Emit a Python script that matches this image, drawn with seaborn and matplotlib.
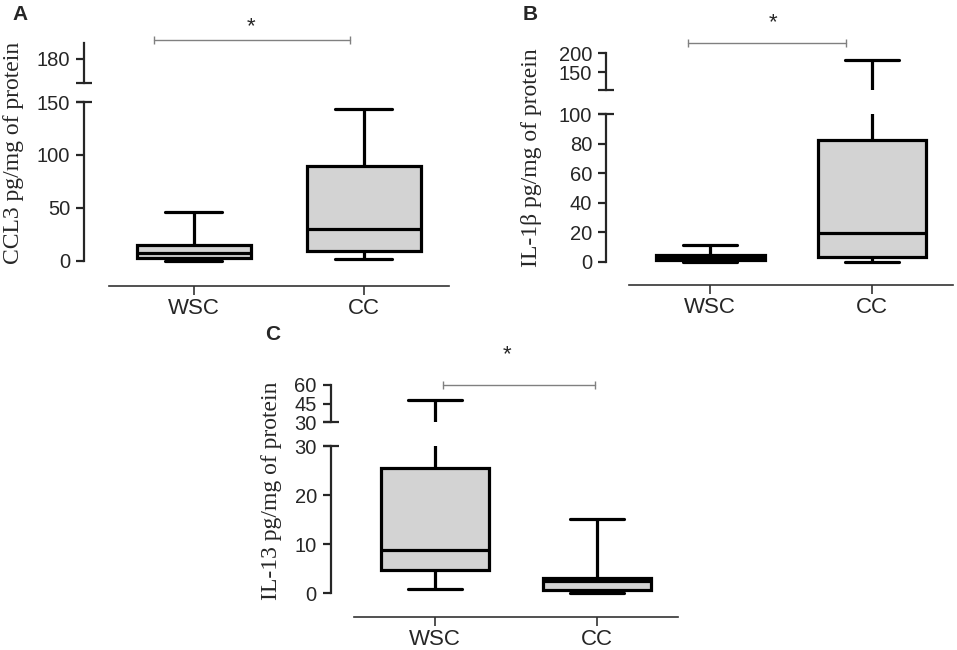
import pandas as pd
import matplotlib
matplotlib.use('Agg')
import matplotlib.pyplot as plt
import seaborn as sns

groups = ['WSC', 'CC']

# five-number summaries: min, Q1, median, Q3, max
ccl3_wsc = [0.3, 2.5, 8.0, 15.5, 46.0]
ccl3_cc = [2.2, 9.7, 30.4, 89.4, 143.0]
il1b_wsc = [0.0, 1.0, 2.5, 4.5, 11.0]
il1b_cc = [0.0, 2.9, 19.4, 82.4, 182.0]
il13_wsc = [0.95, 4.75, 8.8, 25.5, 48.2]
il13_cc = [0.1, 0.7, 2.6, 3.1, 15.1]

# y tick labels of the two segments of each broken axis
ccl3_ticks_lo = [0, 50, 100, 150]
ccl3_ticks_hi = [180]
il1b_ticks_lo = [0, 20, 40, 60, 80, 100]
il1b_ticks_hi = [150, 200]
il13_ticks_lo = [0, 10, 20, 30]
il13_ticks_hi = [30, 45, 60]

sns.set_style('ticks')
plt.rcParams['font.family'] = ['Liberation Sans', 'DejaVu Sans']

W, H = 957, 650
fig = plt.figure(figsize=(W / 100, H / 100), dpi=100)


def px_rect(l, t, r, b):
    return [l / W, 1 - b / H, (r - l) / W, (b - t) / H]


def make_df(wsc, cc):
    return pd.DataFrame({
        'group': [groups[0]] * len(wsc) + [groups[1]] * len(cc),
        'value': wsc + cc,
    })


box_kw = dict(x='group', y='value', order=groups, whis=(0, 100), width=0.67,
              color='#d3d3d3', linecolor='black', linewidth=2.3,
              fliersize=0, saturation=1)


def draw_panel(wsc, cc, lower_px, upper_px, lower_lim, upper_lim,
               ticks_lo, ticks_hi, ylabel, label_xy, letter, letter_xy,
               bracket):
    df = make_df(wsc, cc)
    ax_lo = fig.add_axes(px_rect(*lower_px))
    ax_hi = fig.add_axes(px_rect(*upper_px))
    for ax in (ax_lo, ax_hi):
        sns.boxplot(data=df, ax=ax, **box_kw)
        ax.set_xlim(-0.645, 1.5)
        ax.set_xlabel('')
        ax.set_ylabel('')
        ax.set_facecolor('none')
        ax.spines[['top', 'right']].set_visible(False)
        ax.spines['left'].set_linewidth(1.6)
        ax.tick_params(axis='y', which='major', direction='out', length=5.5,
                       width=1.6, pad=4.5, labelsize=14.5)
        ax.tick_params(axis='y', which='minor', direction='inout', length=12,
                       width=1.6)
        ax.yaxis.remove_overlapping_locs = False

    ax_lo.set_ylim(lower_lim)
    ax_lo.set_yticks(ticks_lo)
    ax_lo.set_yticks([ticks_lo[-1]], minor=True)
    ax_lo.spines['left'].set_bounds(0, ticks_lo[-1])
    ax_lo.spines['bottom'].set_bounds(-0.5, 1.5)
    ax_lo.spines['bottom'].set_linewidth(1.2)
    ax_lo.spines['bottom'].set_color('#333333')
    ax_lo.tick_params(axis='x', length=6.5, width=1.2, color='#333333',
                      labelsize=16, pad=2)

    ax_hi.set_ylim(upper_lim)
    ax_hi.set_yticks(ticks_hi)
    ax_hi.set_yticks([upper_lim[0]], minor=True)
    ax_hi.spines['bottom'].set_visible(False)
    ax_hi.tick_params(axis='x', bottom=False, labelbottom=False)

    # significance bracket
    x0, x1, yb, xs, ys = bracket
    tr = ax_hi.get_xaxis_transform()
    ax_hi.plot([x0, x1], [yb, yb], color='#808080', lw=1, marker='|',
               ms=6, mew=1, transform=tr, clip_on=False)
    ax_hi.text(xs, ys, '*', transform=tr, ha='center', va='center',
               fontsize=16)

    fig.text(label_xy[0] / W, 1 - label_xy[1] / H, ylabel, rotation=90,
             ha='center', va='center', family='Liberation Serif',
             fontsize=17)
    fig.text(letter_xy[0] / W, 1 - letter_xy[1] / H, letter,
             ha='center', va='center', fontweight='bold', fontsize=15)


draw_panel(ccl3_wsc, ccl3_cc, (84, 102, 449, 286), (84, 43, 449, 83),
           (-23.6, 150), (165, 190), ccl3_ticks_lo, ccl3_ticks_hi,
           'CCL3 pg/mg of protein', (14, 153), 'A', (20, 14),
           (-0.235, 0.92, 1.07, 0.335, 1.4))

draw_panel(il1b_wsc, il1b_cc, (606, 114, 953, 285), (606, 53.3, 953, 90),
           (-15.8, 100), (103.4, 200), il1b_ticks_lo, il1b_ticks_hi,
           'IL-1\u03b2 pg/mg of protein', (532, 158), 'B', (530, 15),
           (-0.14, 0.84, 1.29, 0.387, 1.84))

draw_panel(il13_wsc, il13_cc, (330.7, 446, 678, 616.7), (330.7, 385, 678, 422.3),
           (-4.77, 30), (30, 60), il13_ticks_lo, il13_ticks_hi,
           'IL-13 pg/mg of protein', (271, 491), 'C', (273, 335),
           (0.05, 0.985, 1.0, 0.447, 1.82))

fig.savefig('out.png', dpi=100)
